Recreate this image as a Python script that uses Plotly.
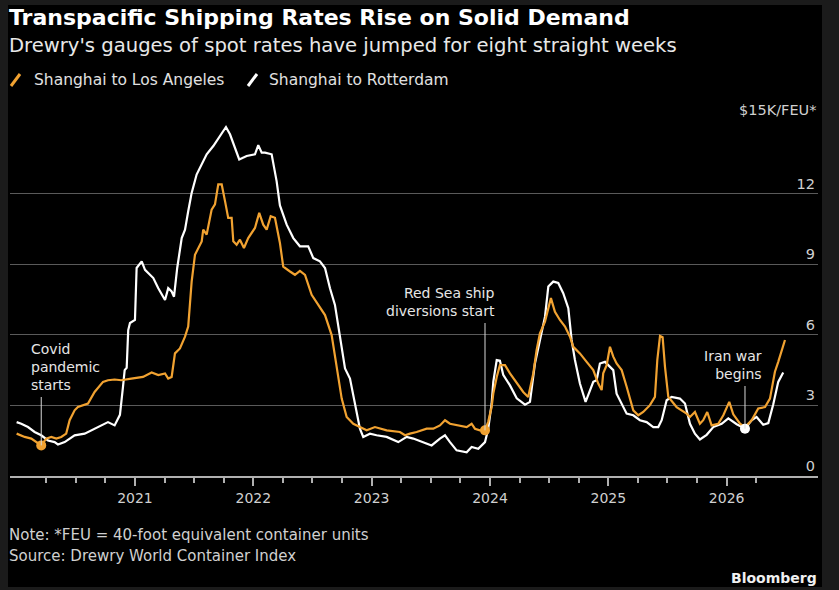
import plotly.graph_objects as go

# ---------------- data (decimal years, $K per FEU) ----------------
LA_YEARS = [2020.000, 2020.068, 2020.124, 2020.180, 2020.208, 2020.250, 2020.293, 2020.335, 2020.377, 2020.419,
            2020.448, 2020.490, 2020.518, 2020.603, 2020.659, 2020.730, 2020.772, 2020.828, 2020.884, 2020.969,
            2021.068, 2021.141, 2021.197, 2021.254, 2021.281, 2021.310, 2021.338, 2021.380, 2021.423, 2021.450,
            2021.479, 2021.507, 2021.535, 2021.564, 2021.577, 2021.606, 2021.648, 2021.676, 2021.704, 2021.733,
            2021.761, 2021.788, 2021.817, 2021.831, 2021.859, 2021.887, 2021.921, 2021.957, 2022.014, 2022.050,
            2022.084, 2022.113, 2022.147, 2022.183, 2022.225, 2022.253, 2022.310, 2022.352, 2022.394, 2022.437,
            2022.493, 2022.549, 2022.606, 2022.662, 2022.704, 2022.747, 2022.789, 2022.845, 2022.901, 2022.958,
            2023.028, 2023.127, 2023.239, 2023.282, 2023.324, 2023.380, 2023.465, 2023.521, 2023.577, 2023.620,
            2023.662, 2023.732, 2023.803, 2023.845, 2023.873, 2023.915, 2023.958, 2023.985, 2024.014, 2024.028,
            2024.057, 2024.084, 2024.127, 2024.169, 2024.226, 2024.281, 2024.323, 2024.366, 2024.394, 2024.422,
            2024.465, 2024.515, 2024.549, 2024.591, 2024.634, 2024.676, 2024.704, 2024.760, 2024.817, 2024.873,
            2024.915, 2024.944, 2024.957, 2024.986, 2025.014, 2025.042, 2025.070, 2025.113, 2025.155, 2025.211,
            2025.253, 2025.295, 2025.352, 2025.394, 2025.414, 2025.437, 2025.459, 2025.479, 2025.507, 2025.577,
            2025.662, 2025.690, 2025.732, 2025.774, 2025.802, 2025.836, 2025.873, 2025.929, 2025.972, 2026.022,
            2026.056, 2026.113, 2026.155, 2026.211, 2026.267, 2026.324, 2026.366, 2026.408, 2026.436, 2026.465,
            2026.493]
LA_VALUES = [1.80, 1.66, 1.59, 1.37, 1.30, 1.59, 1.66, 1.59, 1.66, 1.80,
             2.37, 2.79, 2.93, 3.08, 3.57, 4.00, 4.07, 4.10, 4.07, 4.14,
             4.21, 4.40, 4.29, 4.36, 4.14, 4.21, 5.21, 5.42, 5.92, 6.35,
             8.26, 9.40, 9.69, 9.97, 10.47, 10.26, 11.32, 11.54, 12.39, 12.39,
             11.68, 10.97, 10.97, 9.97, 9.83, 10.04, 9.69, 10.11, 10.54, 11.18,
             10.68, 10.47, 11.04, 10.97, 9.90, 8.90, 8.69, 8.55, 8.72, 8.55,
             7.70, 7.27, 6.84, 5.99, 4.57, 3.29, 2.51, 2.22, 2.08, 1.94,
             2.08, 1.94, 1.87, 1.73, 1.80, 1.87, 2.01, 2.01, 2.15, 2.37,
             2.22, 2.15, 2.08, 2.22, 2.01, 1.94, 1.94, 2.30, 2.93, 3.50,
             4.21, 4.71, 4.71, 4.36, 3.93, 3.57, 3.36, 4.36, 5.35, 6.06,
             6.56, 7.56, 6.98, 6.63, 6.35, 5.92, 5.49, 5.21, 4.85, 4.50,
             3.93, 3.65, 4.36, 4.71, 5.49, 5.07, 4.78, 4.50, 3.79, 2.79,
             2.58, 2.72, 3.01, 3.36, 4.93, 5.95, 5.90, 4.64, 3.36, 2.93,
             2.65, 2.51, 2.72, 2.22, 2.37, 2.72, 2.15, 2.22, 2.58, 3.15,
             2.62, 2.22, 2.08, 2.37, 2.87, 2.93, 3.29, 4.43, 4.85, 5.35,
             5.78]

ROT_YEARS = [2020.000, 2020.039, 2020.096, 2020.152, 2020.208, 2020.265, 2020.321, 2020.349, 2020.406, 2020.490,
             2020.575, 2020.659, 2020.715, 2020.772, 2020.828, 2020.873, 2020.899, 2020.913, 2020.930, 2020.943,
             2020.958, 2021.000, 2021.014, 2021.057, 2021.085, 2021.127, 2021.155, 2021.197, 2021.254, 2021.281,
             2021.310, 2021.330, 2021.357, 2021.395, 2021.423, 2021.450, 2021.479, 2021.521, 2021.564, 2021.606,
             2021.662, 2021.718, 2021.769, 2021.803, 2021.845, 2021.881, 2021.944, 2022.014, 2022.042, 2022.071,
             2022.099, 2022.155, 2022.197, 2022.225, 2022.282, 2022.338, 2022.394, 2022.464, 2022.507, 2022.563,
             2022.606, 2022.648, 2022.690, 2022.732, 2022.775, 2022.817, 2022.859, 2022.901, 2022.929, 2022.986,
             2023.042, 2023.127, 2023.225, 2023.296, 2023.352, 2023.436, 2023.507, 2023.577, 2023.620, 2023.662,
             2023.718, 2023.803, 2023.845, 2023.901, 2023.958, 2023.985, 2024.014, 2024.028, 2024.057, 2024.084,
             2024.112, 2024.169, 2024.226, 2024.296, 2024.338, 2024.380, 2024.422, 2024.465, 2024.493, 2024.535,
             2024.577, 2024.619, 2024.662, 2024.690, 2024.718, 2024.760, 2024.808, 2024.845, 2024.873, 2024.901,
             2024.929, 2024.972, 2025.000, 2025.042, 2025.070, 2025.113, 2025.155, 2025.211, 2025.267, 2025.324,
             2025.380, 2025.422, 2025.451, 2025.493, 2025.535, 2025.605, 2025.648, 2025.690, 2025.732, 2025.774,
             2025.831, 2025.887, 2025.958, 2026.014, 2026.085, 2026.155, 2026.211, 2026.253, 2026.309, 2026.352,
             2026.394, 2026.436, 2026.478]
ROT_VALUES = [2.29, 2.22, 2.08, 1.87, 1.73, 1.51, 1.44, 1.34, 1.44, 1.73,
              1.80, 2.01, 2.15, 2.29, 2.15, 2.60, 3.80, 4.50, 4.60, 6.20,
              6.50, 6.63, 8.84, 9.12, 8.76, 8.55, 8.41, 7.98, 7.48, 7.98,
              7.84, 7.62, 8.84, 10.11, 10.47, 11.25, 12.03, 12.81, 13.24, 13.67,
              14.02, 14.45, 14.83, 14.52, 13.95, 13.45, 13.60, 13.67, 14.06, 13.74,
              13.74, 13.67, 12.53, 11.50, 10.68, 10.11, 9.76, 9.76, 9.26, 9.12,
              8.84, 7.98, 7.27, 5.99, 4.57, 4.14, 3.01, 2.01, 1.66, 1.80,
              1.73, 1.66, 1.44, 1.66, 1.59, 1.44, 1.30, 1.59, 1.73, 1.44,
              1.09, 1.01, 1.23, 1.16, 1.44, 2.00, 3.08, 4.00, 4.93, 4.90,
              4.30, 3.85, 3.30, 3.03, 3.15, 4.78, 5.78, 6.77, 8.05, 8.26,
              8.20, 7.77, 7.13, 5.78, 4.93, 3.93, 3.15, 3.65, 4.00, 4.07,
              4.78, 4.85, 4.71, 4.50, 3.50, 3.08, 2.65, 2.58, 2.37, 2.29,
              2.08, 2.08, 2.37, 3.22, 3.36, 3.29, 3.08, 2.22, 1.80, 1.55,
              1.75, 2.08, 2.22, 2.45, 2.20, 2.01, 2.37, 2.51, 2.18, 2.25,
              3.05, 4.00, 4.40]

YEAR_TICKS = [2021, 2022, 2023, 2024, 2025, 2026]
YEAR_LABELS = ["2021", "2022", "2023", "2024", "2025", "2026"]
QUARTER_TICKS = [2020.25, 2020.5, 2020.75, 2021.25, 2021.5, 2021.75, 2022.25, 2022.5, 2022.75,
                 2023.25, 2023.5, 2023.75, 2024.25, 2024.5, 2024.75, 2025.25, 2025.5, 2025.75, 2026.25]
Y_TICKS = [0, 3, 6, 9, 12, 15]
Y_LABELS = ["0", "3", "6", "9", "12", ""]
Y_TOP_LABEL = "$15K/FEU*"

# events: (date, value on marked series, label, series)
EVENTS = [
    (2020.208, 1.30, "Covid<br>pandemic<br>starts", "LA"),
    (2023.958, 1.94, "Red Sea ship<br>diversions start", "LA"),
    (2026.155, 2.01, "Iran war<br>begins", "ROT"),
]

ORANGE = "#f1a231"
WHITE = "#ffffff"
FONT = "DejaVu Sans, Verdana, sans-serif"

W, H = 839, 590
ML, MR, MT, MB = 10, 21, 123, 114
YMAX = 15.0


def px_x(px):
    return (px - ML) / (W - ML - MR)


def px_y(py):
    return (H - MB - py) / (H - MT - MB)


fig = go.Figure()
fig.add_trace(go.Scatter(x=ROT_YEARS, y=ROT_VALUES, mode="lines", name="Shanghai to Rotterdam",
                         line=dict(color=WHITE, width=2.2), showlegend=False))
fig.add_trace(go.Scatter(x=LA_YEARS, y=LA_VALUES, mode="lines", name="Shanghai to Los Angeles",
                         line=dict(color=ORANGE, width=2.2), showlegend=False))

shapes = []
annotations = []

# black card on dark frame
shapes.append(dict(type="rect", xref="paper", yref="paper", x0=px_x(8), x1=px_x(822),
                   y0=px_y(587), y1=px_y(5), fillcolor="#000000", line=dict(width=0), layer="below"))

# event markers
ev_text_pos = [  # (text anchor px x, text bottom px y, line top px y, xanchor, align)
    (29, 395, 397, "left", "left"),
    (497, 321, 323, "right", "right"),
    (764, 384, 386, "right", "right"),
]
for (ex, ev, label, ser), (tx, ty, ly, xa, al) in zip(EVENTS, ev_text_pos):
    col = ORANGE if ser == "LA" else WHITE
    shapes.append(dict(type="line", xref="x", yref="y", x0=ex, x1=ex, y0=ev,
                       y1=px_y(ly) * YMAX, line=dict(color="#d8d8d8", width=1)))
    fig.add_trace(go.Scatter(x=[ex], y=[ev], mode="markers", showlegend=False, hoverinfo="skip",
                             marker=dict(color=col, size=10)))
    annotations.append(dict(xref="paper", yref="paper", x=px_x(tx), y=px_y(ty), text=label,
                            showarrow=False, xanchor=xa, yanchor="bottom", align=al,
                            font=dict(family=FONT, size=14, color="#e6e6e6")))

# top y label (unit)
annotations.append(dict(xref="paper", yref="paper", x=1, y=px_y(110), text=Y_TOP_LABEL,
                        showarrow=False, xanchor="right", yanchor="middle",
                        font=dict(family=FONT, size=14.5, color="#d0d0d0")))

# title / subtitle
annotations.append(dict(xref="paper", yref="paper", x=px_x(7), y=px_y(17), text="<b>Transpacific Shipping Rates Rise on Solid Demand</b>",
                        showarrow=False, xanchor="left", yanchor="middle",
                        font=dict(family=FONT, size=22, color="#ffffff")))
annotations.append(dict(xref="paper", yref="paper", x=px_x(7), y=px_y(45), text="Drewry's gauges of spot rates have jumped for eight straight weeks",
                        showarrow=False, xanchor="left", yanchor="middle",
                        font=dict(family=FONT, size=19.6, color="#e8e8e8")))

# legend
for (sx, tx, col, name) in [(11, 32, ORANGE, "Shanghai to Los Angeles"), (248, 267, WHITE, "Shanghai to Rotterdam")]:
    shapes.append(dict(type="line", xref="paper", yref="paper", x0=px_x(sx), x1=px_x(sx + 9),
                       y0=px_y(86), y1=px_y(74), line=dict(color=col, width=3)))
    annotations.append(dict(xref="paper", yref="paper", x=px_x(tx), y=px_y(80), text=name,
                            showarrow=False, xanchor="left", yanchor="middle",
                            font=dict(family=FONT, size=15.5, color="#e0e0e0")))

# footer
annotations.append(dict(xref="paper", yref="paper", x=px_x(7), y=px_y(535), text="Note: *FEU = 40-foot equivalent container units",
                        showarrow=False, xanchor="left", yanchor="middle",
                        font=dict(family=FONT, size=15, color="#d0d0d0")))
annotations.append(dict(xref="paper", yref="paper", x=px_x(7), y=px_y(556), text="Source: Drewry World Container Index",
                        showarrow=False, xanchor="left", yanchor="middle",
                        font=dict(family=FONT, size=15, color="#d0d0d0")))
annotations.append(dict(xref="paper", yref="paper", x=px_x(819), y=px_y(578), text="<b>Bloomberg</b>",
                        showarrow=False, xanchor="right", yanchor="middle",
                        font=dict(family=FONT, size=14, color="#f0f0f0")))

fig.update_layout(
    width=W, height=H,
    margin=dict(l=ML, r=MR, t=MT, b=MB, pad=0),
    paper_bgcolor="#1b1b1b", plot_bgcolor="#000000",
    font=dict(family=FONT, color="#d0d0d0"),
    shapes=shapes, annotations=annotations,
    hovermode="x unified",
)
fig.update_xaxes(
    range=[2019.944, 2026.772], tickmode="array", tickvals=YEAR_TICKS, ticktext=YEAR_LABELS,
    showgrid=False, zeroline=False, showline=True, linecolor="#b0b0b0", linewidth=1.5,
    ticks="outside", ticklen=8, tickwidth=1.5, tickcolor="#b0b0b0",
    tickfont=dict(family=FONT, size=14, color="#d0d0d0"),
    minor=dict(tickmode="array", tickvals=QUARTER_TICKS, ticks="outside", ticklen=5,
               tickwidth=1.5, tickcolor="#b0b0b0", showgrid=False),
)
fig.update_yaxes(
    range=[0, YMAX], tickmode="array", tickvals=Y_TICKS, ticktext=Y_LABELS,
    side="right", ticklabelposition="inside top", showgrid=True, gridcolor="#5a5a5a", gridwidth=1,
    zeroline=False, showline=False, ticks="",
    tickfont=dict(family=FONT, size=14.5, color="#d0d0d0"),
)

fig.write_html("out.html")
